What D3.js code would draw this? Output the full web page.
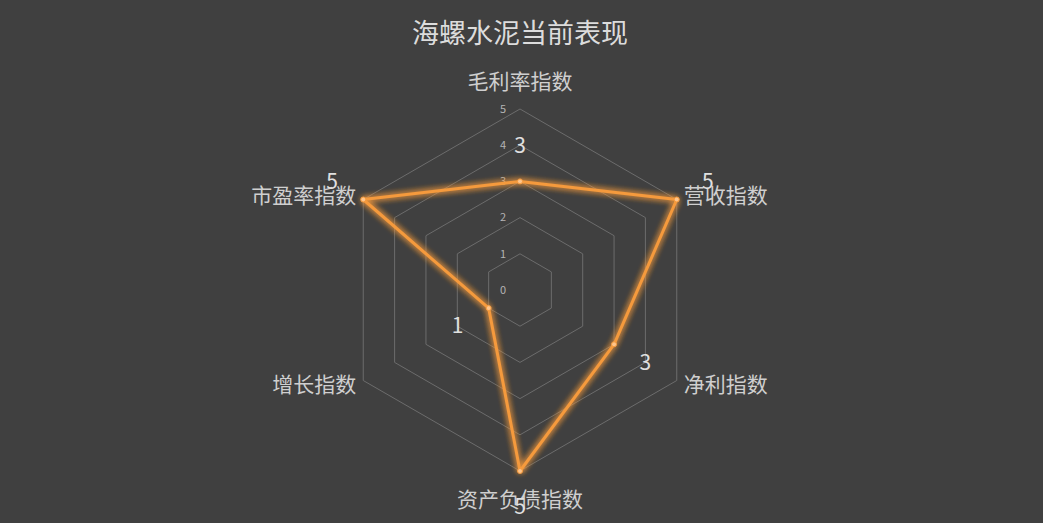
<!DOCTYPE html>
<html lang="zh">
<head>
    <meta charset="utf-8">
    <title>海螺水泥当前表现</title>
    <script src="https://cdnjs.cloudflare.com/ajax/libs/d3/7.8.5/d3.min.js"></script>
    <style>
        html, body { margin: 0; padding: 0; background: #404040; }
        svg { display: block; font-family: "Noto Sans CJK SC", "Noto Sans", sans-serif; }
    </style>
</head>
<body>
    <svg id="chart"></svg>
    <script>
        // Chart data
        const indicators = ['毛利率指数', '营收指数', '净利指数', '资产负债指数', '增长指数', '市盈率指数'];
        const values = [3, 5, 3, 5, 1, 5];
        const tickLabels = [0, 1, 2, 3, 4, 5];
        const maxValue = 5;

        const width = 1043;
        const height = 523;
        const cx = 520;
        const cy = 290;
        const radius = 181;

        const svg = d3.select('#chart')
            .attr('width', width)
            .attr('height', height);

        svg.append('rect')
            .attr('width', width)
            .attr('height', height)
            .attr('fill', '#404040');

        // Glow for the series line
        const defs = svg.append('defs');
        const glow = defs.append('filter')
            .attr('id', 'glow')
            .attr('x', '-20%').attr('y', '-20%')
            .attr('width', '140%').attr('height', '140%');
        glow.append('feGaussianBlur')
            .attr('in', 'SourceGraphic')
            .attr('stdDeviation', 3)
            .attr('result', 'blur');
        const merge = glow.append('feMerge');
        merge.append('feMergeNode').attr('in', 'blur');
        merge.append('feMergeNode').attr('in', 'blur');
        merge.append('feMergeNode').attr('in', 'SourceGraphic');

        const r = d3.scaleLinear().domain([0, maxValue]).range([0, radius]);
        const angle = d3.scaleLinear()
            .domain([0, indicators.length])
            .range([0, 2 * Math.PI]);

        // point on axis i at distance d (clockwise from top)
        function pos(i, d) {
            const a = angle(i);
            return [cx + d * Math.sin(a), cy - d * Math.cos(a)];
        }

        svg.append('text')
            .attr('x', cx)
            .attr('y', 43)
            .attr('text-anchor', 'middle')
            .attr('fill', '#dcdcdc')
            .attr('font-size', 27)
            .text('海螺水泥当前表现');

        const g = svg.append('g');

        // Split hexagons
        const ring = d3.line().curve(d3.curveLinearClosed);
        g.selectAll('.ring')
            .data(tickLabels.slice(1))
            .enter().append('path')
            .attr('class', 'ring')
            .attr('d', v => ring(indicators.map((_, i) => pos(i, r(v)))))
            .attr('fill', 'none')
            .attr('stroke', '#6c6c6c')
            .attr('stroke-width', 1);

        // Radial tick labels
        g.selectAll('.tick')
            .data(tickLabels)
            .enter().append('text')
            .attr('class', 'tick')
            .attr('x', cx - 17)
            .attr('y', v => cy - r(v))
            .attr('dy', '0.35em')
            .attr('text-anchor', 'middle')
            .attr('fill', '#b4b4b4')
            .attr('font-size', 11)
            .text(v => v);

        // Indicator names
        g.selectAll('.name')
            .data(indicators)
            .enter().append('text')
            .attr('class', 'name')
            .attr('x', (d, i) => pos(i, radius + 8)[0])
            .attr('y', (d, i) => pos(i, radius + 8)[1])
            .attr('text-anchor', (d, i) => {
                const x = pos(i, radius)[0] - cx;
                return Math.abs(x) < 1 ? 'middle' : (x > 0 ? 'start' : 'end');
            })
            .attr('dy', (d, i) => {
                const y = pos(i, radius)[1] - cy;
                const x = pos(i, radius)[0] - cx;
                if (Math.abs(x) < 1) return y < 0 ? -12 : 28;
                return '0.35em';
            })
            .attr('fill', '#cfcfcf')
            .attr('font-size', 21)
            .text(d => d);

        // Series line
        const points = values.map((v, i) => pos(i, r(v)));
        g.append('path')
            .attr('d', ring(points))
            .attr('fill', 'none')
            .attr('stroke', '#f59a3c')
            .attr('stroke-width', 3)
            .attr('stroke-linejoin', 'round')
            .attr('filter', 'url(#glow)');

        g.selectAll('.dot')
            .data(points)
            .enter().append('circle')
            .attr('class', 'dot')
            .attr('cx', d => d[0])
            .attr('cy', d => d[1])
            .attr('r', 2.5)
            .attr('fill', '#ffc58a')
            .attr('stroke', '#f59a3c')
            .attr('stroke-width', 1);

        // Value labels
        g.selectAll('.val')
            .data(values)
            .enter().append('text')
            .attr('class', 'val')
            .attr('x', (v, i) => pos(i, r(v) + 36)[0])
            .attr('y', (v, i) => pos(i, r(v) + 36)[1])
            .attr('dy', '0.35em')
            .attr('text-anchor', 'middle')
            .attr('fill', '#e0e0e0')
            .attr('font-size', 21)
            .text(v => v);
    </script>
</body>
</html>
